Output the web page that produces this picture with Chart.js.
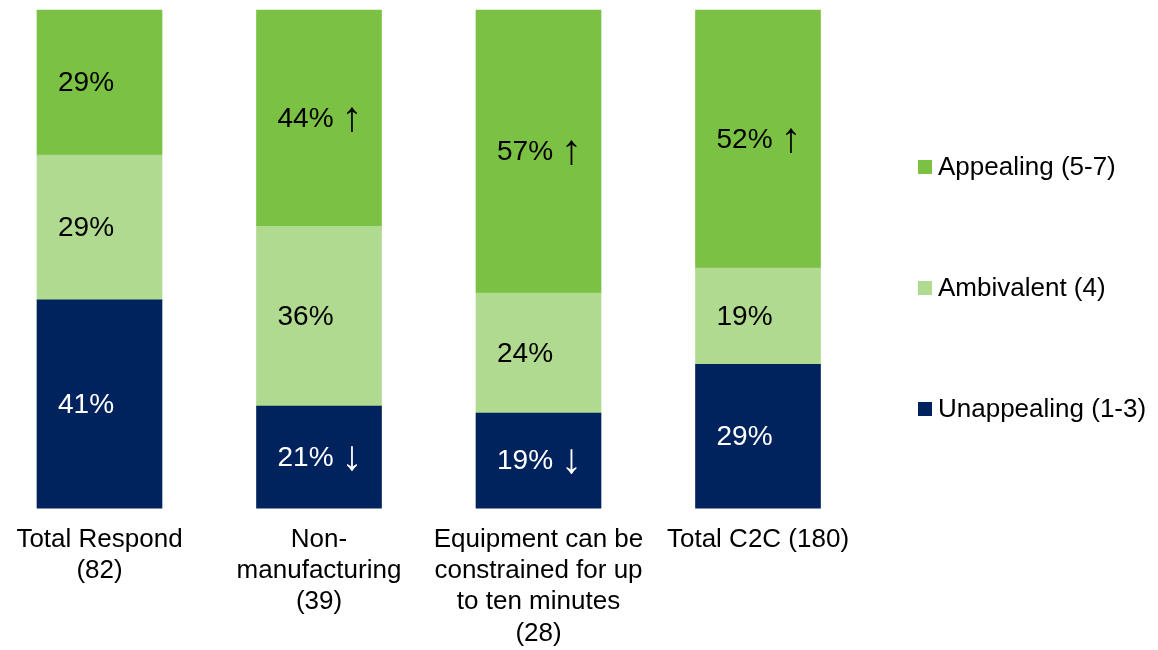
<!DOCTYPE html>
<html>
<head>
<meta charset="utf-8">
<script src="https://cdn.jsdelivr.net/npm/chart.js@4/dist/chart.umd.min.js"></script>
<style>
  body { margin: 0; background: #fff; }
  #wrap { width: 1158px; height: 650px; }
</style>
</head>
<body>
<div id="wrap"><canvas id="chart" width="1158" height="650"></canvas></div>
<script>
const categories = [
  ["Total Respond", "(82)"],
  ["Non-", "manufacturing", "(39)"],
  ["Equipment can be", "constrained for up", "to ten minutes", "(28)"],
  ["Total C2C (180)"],
];

const unappealing = [41.8, 20.5, 19.1, 28.9];
const ambivalent = [29.1, 36.1, 24.1, 19.3];
const appealing = [29.1, 43.4, 56.8, 51.8];

const unappealingLabels = ["41%", "21% \u2193", "19% \u2193", "29%"];
const ambivalentLabels = ["29%", "36%", "24%", "19%"];
const appealingLabels = ["29%", "44% \u2191", "57% \u2191", "52% \u2191"];

const FONT = "'Liberation Sans', Arial, sans-serif";

// percentage text inside each segment, arrows drawn a bit bigger
const barLabels = {
  id: "barLabels",
  afterDatasetsDraw(chart) {
    const ctx = chart.ctx;
    ctx.save();
    ctx.textBaseline = "middle";
    ctx.textAlign = "left";
    chart.data.datasets.forEach((ds, i) => {
      const meta = chart.getDatasetMeta(i);
      meta.data.forEach((bar, j) => {
        const x = bar.x - bar.width / 2 + 21;
        const y = (bar.y + bar.base) / 2 + 1;
        const [num, arrow] = ds.valueLabels[j].split(" ");
        ctx.fillStyle = ds.labelColor;
        ctx.font = "28px " + FONT;
        ctx.fillText(num, x, y);
        if (arrow) {
          const w = ctx.measureText(num + " ").width;
          ctx.font = "42px " + FONT;
          ctx.fillText(arrow, x + w, y);
        }
      });
    });
    ctx.restore();
  },
};

// legend on the right, spread out like the original
const sideLegend = {
  id: "sideLegend",
  afterDraw(chart) {
    const ctx = chart.ctx;
    const rows = [167, 288, 409];
    ctx.save();
    ctx.font = "26px " + FONT;
    ctx.textBaseline = "middle";
    ctx.textAlign = "left";
    chart.data.datasets.slice().reverse().forEach((ds, i) => {
      ctx.fillStyle = ds.backgroundColor;
      ctx.fillRect(918, rows[i] - 7, 14, 14);
      ctx.fillStyle = "#000";
      ctx.fillText(ds.label, 938, rows[i] + 1);
    });
    ctx.restore();
  },
};

new Chart(document.getElementById("chart"), {
  type: "bar",
  data: {
    labels: categories,
    datasets: [
      {
        label: "Unappealing (1-3)",
        data: unappealing,
        valueLabels: unappealingLabels,
        labelColor: "#ffffff",
        backgroundColor: "#00235E",
      },
      {
        label: "Ambivalent (4)",
        data: ambivalent,
        valueLabels: ambivalentLabels,
        labelColor: "#000000",
        backgroundColor: "#B0DA8F",
      },
      {
        label: "Appealing (5-7)",
        data: appealing,
        valueLabels: appealingLabels,
        labelColor: "#000000",
        backgroundColor: "#7BC143",
      },
    ],
  },
  options: {
    responsive: false,
    animation: false,
    events: [],
    layout: { padding: { top: 10, left: 99.5, right: 400, bottom: -15 } },
    datasets: { bar: { barThickness: 125, clip: false, borderWidth: 0 } },
    scales: {
      x: {
        stacked: true,
        offset: false,
        grid: { display: false, drawTicks: false },
        border: { display: false },
        ticks: {
          autoSkip: false,
          maxRotation: 0,
          padding: 16,
          color: "#000",
          font: { family: FONT, size: 26, lineHeight: 1.2 },
        },
      },
      y: {
        stacked: true,
        display: false,
        min: 0,
        max: 100,
      },
    },
    plugins: {
      legend: { display: false },
      tooltip: { enabled: false },
    },
  },
  plugins: [barLabels, sideLegend],
});
</script>
</body>
</html>
